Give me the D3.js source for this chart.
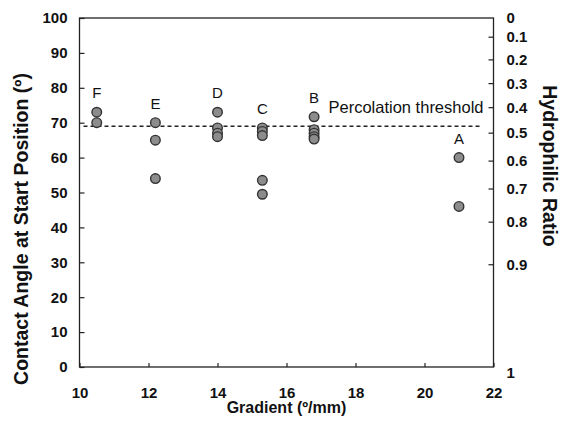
<!DOCTYPE html>
<html lang="en">
<head>
    <meta charset="UTF-8">
    <title>Contact Angle vs Gradient</title>
    <style>
      body {
          margin: 0;
          padding: 0;
          background-color: #fff;
          font-family: 'Liberation Sans', Arial, sans-serif;
      }
      .tick-label {
          font-size: 15px;
          font-weight: bold;
          fill: #111;
      }
      .axis-title {
          font-size: 16px;
          font-weight: bold;
          fill: #111;
      }
      .side-title {
          font-size: 19.5px;
          font-weight: bold;
          fill: #111;
      }
      .group-label {
          font-size: 15px;
          fill: #111;
      }
      .threshold-label {
          font-size: 16.5px;
          fill: #111;
      }
    </style>
</head>
<body>
    <div id="chart"></div>
    <script src="https://d3js.org/d3.v7.min.js"></script>
    <script>
        // sample groups, gradient in deg/mm
        const groupNames = ["F", "E", "D", "C", "B", "A"];
        const gradients = [10.5, 12.2, 14.0, 15.3, 16.8, 21.0];
        // contact angle at start position for each group
        const angles = [
            [73, 70],
            [70, 65, 54],
            [73, 68.5, 67, 66],
            [68.5, 67.5, 66.3, 53.5, 49.5],
            [71.7, 68, 67, 66, 65.3],
            [60, 46]
        ];
        const thresholdAngle = 69;

        const xTicks = [10, 12, 14, 16, 18, 20, 22];
        const yTicks = [0, 10, 20, 30, 40, 50, 60, 70, 80, 90, 100];
        // right axis: hydrophilic ratio and the contact angle it sits at
        const ratioTicks = ["0", "0.1", "0.2", "0.3", "0.4", "0.5", "0.6", "0.7", "0.8", "0.9", "1"];
        const ratioTickAngles = [100, 94.5, 88, 81.2, 74.3, 67, 59, 51, 41.5, 29.3, 0];

        const width = 561, height = 422;
        const margin = {top: 18, right: 67.5, bottom: 55, left: 79.5};

        const svg = d3.select("#chart").append("svg")
            .attr("width", width)
            .attr("height", height);

        const x = d3.scaleLinear()
            .domain([10, 22])
            .range([margin.left, width - margin.right]);

        const y = d3.scaleLinear()
            .domain([0, 100])
            .range([height - margin.bottom, margin.top]);

        // frame
        svg.append("rect")
            .attr("x", x(10))
            .attr("y", y(100))
            .attr("width", x(22) - x(10))
            .attr("height", y(0) - y(100))
            .attr("fill", "none")
            .attr("stroke", "#222")
            .attr("stroke-width", 1.3);

        // left axis
        const yAxis = d3.axisLeft(y).tickValues(yTicks).tickSizeInner(-5).tickSizeOuter(0).tickPadding(12);
        const gy = svg.append("g")
            .attr("transform", `translate(${x(10)},0)`)
            .call(yAxis);
        gy.select(".domain").remove();
        gy.selectAll("line").attr("stroke", "#222").attr("stroke-width", 1.2);
        gy.selectAll("text").attr("class", "tick-label").attr("font-family", null).attr("font-size", null);

        // bottom axis
        const xAxis = d3.axisBottom(x).tickValues(xTicks).tickSizeInner(-4).tickSizeOuter(0).tickPadding(20);
        const gx = svg.append("g")
            .attr("transform", `translate(0,${y(0)})`)
            .call(xAxis);
        gx.select(".domain").remove();
        gx.selectAll("line").attr("stroke", "#222").attr("stroke-width", 1.2);
        gx.selectAll("text").attr("class", "tick-label").attr("font-family", null).attr("font-size", null);

        // right axis, hydrophilic ratio
        const gr = svg.append("g")
            .attr("transform", `translate(${x(22)},0)`);
        ratioTicks.forEach((t, i) => {
            const ty = y(ratioTickAngles[i]);
            if (i > 0 && i < ratioTicks.length - 1) {
                gr.append("line")
                    .attr("x1", 0).attr("x2", -5)
                    .attr("y1", ty).attr("y2", ty)
                    .attr("stroke", "#222")
                    .attr("stroke-width", 1.2);
            }
            gr.append("text")
                .attr("class", "tick-label")
                .attr("x", 13)
                .attr("y", i === ratioTicks.length - 1 ? ty + 6 : ty)
                .attr("dy", "0.35em")
                .text(t);
        });

        // threshold line
        svg.append("line")
            .attr("x1", x(10) + 4)
            .attr("x2", x(22) - 13)
            .attr("y1", y(thresholdAngle))
            .attr("y2", y(thresholdAngle))
            .attr("stroke", "#222")
            .attr("stroke-width", 1.4)
            .attr("stroke-dasharray", "4,3");

        svg.append("text")
            .attr("class", "threshold-label")
            .attr("x", x(22) - 10)
            .attr("y", y(thresholdAngle) - 13)
            .attr("text-anchor", "end")
            .text("Percolation threshold");

        // points
        const points = [];
        angles.forEach((vals, i) => {
            vals.forEach(v => points.push({g: gradients[i], a: v}));
        });

        svg.append("g")
            .selectAll("circle")
            .data(points)
            .enter().append("circle")
            .attr("cx", d => x(d.g))
            .attr("cy", d => y(d.a))
            .attr("r", 4.8)
            .attr("fill", "#8c8c8c")
            .attr("stroke", "#333")
            .attr("stroke-width", 1.4);

        // group letters above each column
        svg.append("g")
            .selectAll("text")
            .data(groupNames)
            .enter().append("text")
            .attr("class", "group-label")
            .attr("x", (d, i) => x(gradients[i]))
            .attr("y", (d, i) => y(d3.max(angles[i])) - 14)
            .attr("text-anchor", "middle")
            .text(d => d);

        // axis titles
        svg.append("text")
            .attr("class", "axis-title")
            .attr("x", x(16))
            .attr("y", 413)
            .attr("text-anchor", "middle")
            .text("Gradient (º/mm)");

        svg.append("text")
            .attr("class", "side-title")
            .attr("transform", "translate(27.5,229) rotate(-90)")
            .attr("text-anchor", "middle")
            .text("Contact Angle at Start Position (º)");

        svg.append("text")
            .attr("class", "side-title")
            .attr("transform", "translate(543,166) rotate(90)")
            .attr("text-anchor", "middle")
            .text("Hydrophilic Ratio");
    </script>
</body>
</html>
